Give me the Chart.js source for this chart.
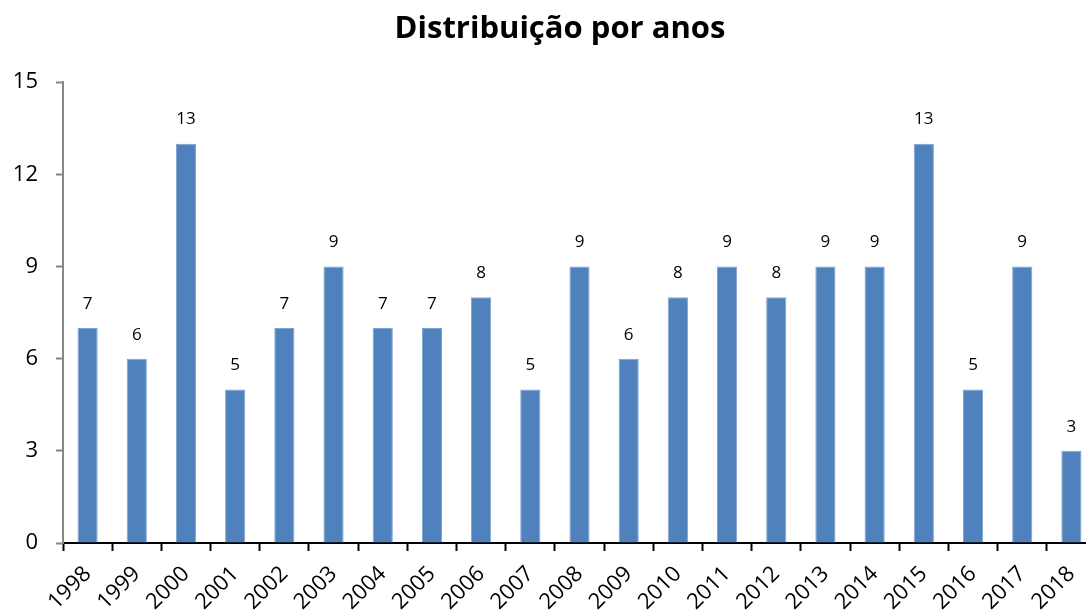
<!DOCTYPE html>
<html>
<head>
<meta charset="utf-8">
<script src="https://cdn.jsdelivr.net/npm/chart.js@4/dist/chart.umd.min.js"></script>
<style>
  html, body { margin: 0; padding: 0; background: #fff; overflow: hidden; }
  #wrap { width: 1120px; height: 615px; }
</style>
</head>
<body>
<div id="wrap"><canvas id="anosChart" width="1120" height="615"></canvas></div>
<script>
// data
const anos = ["1998", "1999", "2000", "2001", "2002", "2003", "2004", "2005", "2006", "2007",
              "2008", "2009", "2010", "2011", "2012", "2013", "2014", "2015", "2016", "2017", "2018"];
const quantidades = [7, 6, 13, 5, 7, 9, 7, 7, 8, 5, 9, 6, 8, 9, 8, 9, 9, 13, 5, 9, 3];
const yTicks = [0, 3, 6, 9, 12, 15];

const fontFamily = "'Open Sans', 'DejaVu Sans', sans-serif";

// simple value labels above the bars
const valueLabels = {
    id: "valueLabels",
    afterDatasetsDraw(chart) {
        let ctx = chart.ctx;
        let meta = chart.getDatasetMeta(0);
        ctx.save();
        ctx.font = "17px " + fontFamily;
        ctx.fillStyle = "#000";
        ctx.textAlign = "center";
        ctx.textBaseline = "middle";
        meta.data.forEach((bar, i) => {
            ctx.fillText(String(quantidades[i]), bar.x, bar.y - 24);
        });
        ctx.restore();
    }
};

let ctx = document.getElementById("anosChart").getContext("2d");
new Chart(ctx, {
    type: "bar",
    data: {
        labels: anos,
        datasets: [{
            label: "Distribuição por anos",
            data: quantidades,
            backgroundColor: "#4F81BD",
            borderColor: "#7FA3D0",
            borderWidth: 1,
            barPercentage: 0.41,
            categoryPercentage: 1.0
        }]
    },
    options: {
        responsive: false,
        animation: false,
        layout: { padding: 0 },
        plugins: {
            legend: { display: false },
            tooltip: { enabled: false },
            title: {
                display: true,
                text: "Distribuição por anos",
                color: "#000",
                font: { family: fontFamily, size: 31, weight: "bold", lineHeight: 1.2 },
                padding: { top: 11, bottom: 34 }
            }
        },
        scales: {
            x: {
                offset: true,
                border: { display: true, color: "#000", width: 2 },
                grid: {
                    offset: true,
                    drawOnChartArea: false,
                    drawTicks: true,
                    tickLength: 8,
                    tickWidth: 2,
                    tickColor: "#000"
                },
                ticks: {
                    color: "#000",
                    font: { family: fontFamily, size: 22 },
                    minRotation: 45,
                    maxRotation: 45,
                    padding: 10,
                    autoSkip: false
                },
                afterFit(scale) { scale.height = 72; }
            },
            y: {
                min: 0,
                max: 15,
                border: { display: true, color: "#868686", width: 2 },
                grid: {
                    drawOnChartArea: false,
                    drawTicks: true,
                    tickLength: 7,
                    tickWidth: 2,
                    tickColor: "#868686"
                },
                afterBuildTicks(scale) {
                    scale.ticks = yTicks.map(v => ({ value: v }));
                },
                ticks: {
                    color: "#000",
                    font: { family: fontFamily, size: 22 },
                    padding: 18
                },
                afterFit(scale) { scale.width = 63; }
            },
            // empty spacer on the right so the plot ends where the original does
            spacer: {
                type: "linear",
                position: "right",
                display: true,
                border: { display: false },
                grid: { display: false },
                ticks: { display: false },
                afterFit(scale) { scale.width = 24; }
            }
        }
    },
    plugins: [valueLabels]
});
</script>
</body>
</html>
